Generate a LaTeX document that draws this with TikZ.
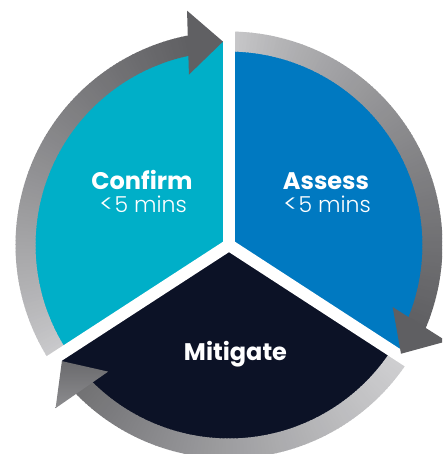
\documentclass[tikz,border=0pt]{standalone}
\usepackage{fontspec}
\usepackage{graphicx}
\setmainfont{Poppins}[BoldFont={Poppins Bold}]
\newfontfamily\lightfont{Poppins Light}
\usetikzlibrary{calc}
\definecolor{cteal}{HTML}{00AFC8}
\definecolor{cblue}{HTML}{0079C1}
\definecolor{cnavy}{HTML}{0C1226}
\definecolor{rlight}{HTML}{D0D0D2}
\definecolor{rdark}{HTML}{5F5F62}
\definecolor{rdarkB}{HTML}{707073}
\definecolor{headA}{HTML}{606063}
\newcommand{\lessmark}{\scalebox{1.3}[1.1]{<}\kern1pt}
\tikzset{
  title/.style={text=white, font=\bfseries\fontsize{24}{24}\selectfont, anchor=base, inner sep=0pt},
  sub/.style={text=white, font=\lightfont\fontsize{22}{22}\selectfont, anchor=base, inner sep=0pt},
  gapline/.style={white, line width=12pt, line cap=round},
}
\begin{document}
\begin{tikzpicture}[x=1pt,y=1pt]
\useasboundingbox (-229,-209) rectangle (213,245);
\clip (-229,-209) rectangle (213,245);
% sectors
\fill[cteal] (0,0) -- (90:203.5) arc[start angle=90,end angle=213,radius=203.5] -- cycle;
\fill[cblue] (0,0) -- (-33:203.5) arc[start angle=-33,end angle=90,radius=203.5] -- cycle;
\fill[cnavy] (0,0) -- (213:203.5) arc[start angle=213,end angle=327,radius=203.5] -- cycle;
% ring 1 (Confirm)
\foreach \i in {0,...,113} {
  \pgfmathsetmacro\s{214-\i}
  \pgfmathsetmacro\p{100*((\i+0.5)/114)^0.8}
  \draw[line width=20pt, color=rdark!\p!rlight] (\s:203.5) arc[start angle=\s, end angle=\s-1.3, radius=203.5];
}
% ring 2 (Assess)
\foreach \i in {0,...,114} {
  \pgfmathsetmacro\s{91-\i}
  \pgfmathsetmacro\p{100*((\i+0.5)/115)^0.7}
  \draw[line width=20pt, color=rdark!\p!rlight] (\s:203.5) arc[start angle=\s, end angle=\s-1.3, radius=203.5];
}
% ring 3 (Mitigate)
\foreach \i in {0,...,104} {
  \pgfmathsetmacro\s{-32-\i}
  \pgfmathsetmacro\p{100*((\i+0.5)/105)^1.1}
  \draw[line width=20pt, color=rdarkB!\p!rlight] (\s:203.5) arc[start angle=\s, end angle=\s-1.3, radius=203.5];
}
% white gaps
\foreach \a in {90,213,-33} \draw[gapline] (0,0) -- (\a:262);
% arrow heads
\coordinate (t1) at (91.7:203.5);
\coordinate (t2) at (-32.3:203.5);
\coordinate (t3) at (214.8:203.5);
\fill[headA] (t1) -- ($(t1)+(181.7:35)+(91.7:32)$) -- ($(t1)+(181.7:35)+(271.7:32)$) -- cycle;
\fill[rdark] (t2) -- ($(t2)+(57.7:35)+(-32.3:32)$) -- ($(t2)+(57.7:35)+(147.7:32)$) -- cycle;
\shade[top color=rdarkB!95!black, bottom color=rdarkB!70!rlight] (t3) -- ($(t3)+(304.8:35)+(214.8:32)$) -- ($(t3)+(304.8:35)+(34.8:32)$) -- cycle;
% texts
\node[title] (confirm) at (-87,55.5) {Confirm};
\node[sub] (confirmt) at (-86,32) {\lessmark 5 mins};
\node[title] (assess) at (97,55.5) {Assess};
\node[sub] (assesst) at (98,32) {\lessmark 5 mins};
\node[title] (mitigate) at (6.5,-115) {Mitigate};
\end{tikzpicture}
\end{document}
